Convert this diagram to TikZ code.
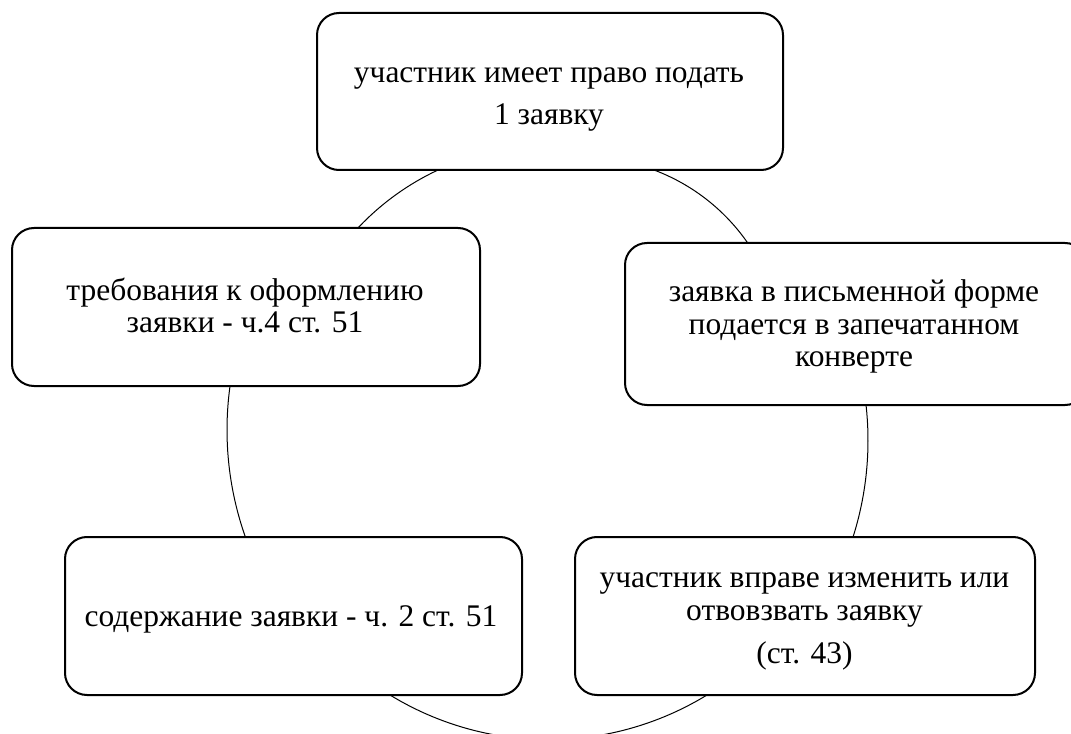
\documentclass[tikz,border=0pt]{standalone}
\usepackage{fontspec}
\setmainfont{Liberation Serif}
\begin{document}
\begin{tikzpicture}[x=0.75pt,y=-0.75pt,
  boxstyle/.style={draw=black, line width=1.5pt, fill=white, rounded corners=16.5pt,
    inner sep=0pt, outer sep=0pt},
  txt/.style={font={\fontsize{23.6}{24.4}\selectfont}, align=center, inner sep=0pt, anchor=base},
  arcline/.style={draw=black, line width=0.75pt}
]
\useasboundingbox (0,0) rectangle (1071,734);
\clip (0,0) rectangle (1071,734);
\fill[white] (0,0) rectangle (1071,734);
% cycle arcs
\draw[arcline] plot[domain=-113:-140, samples=40] ({548.5+261.3*cos(\x)},{406.8+261.3*sin(\x)});
\draw[arcline] plot[domain=-72:-32, samples=40] ({584.4+198.6*cos(\x)},{356.0+198.6*sin(\x)});
\draw[arcline] plot[domain=150:195, samples=60] ({548.5+321.5*cos(\x)},{429.9+321.5*sin(\x)});
\draw[arcline] plot[domain=-12:22, samples=60] ({548.5+319.5*cos(\x)},{440.4+319.5*sin(\x)});
\draw[arcline] plot[domain=54:126, samples=80] ({548.5+303.4*cos(\x)},{436.3+303.4*sin(\x)});
% boxes
\node[boxstyle, minimum width={466*0.75pt}, minimum height={157*0.75pt}] (top) at (550,91.5) {};
\node[boxstyle, minimum width={468*0.75pt}, minimum height={158*0.75pt}] (lm) at (246,307) {};
\node[boxstyle, minimum width={462*0.75pt}, minimum height={162*0.75pt}] (rm) at (856,324) {};
\node[boxstyle, minimum width={457*0.75pt}, minimum height={158*0.75pt}] (bl) at (293.5,616) {};
\node[boxstyle, minimum width={460*0.75pt}, minimum height={158*0.75pt}] (br) at (805,616) {};
% texts (anchor=base is the baseline of the last line)
\node[txt] (ttop) at (549,125) {участник имеет право подать\\[7.5pt]1 заявку};
\node[txt] (tlm) at (245,333) {требования к оформлению\\заявки - ч.4 ст. 51};
\node[txt] (trm) at (854,366.7) {заявка в письменной форме\\подается в запечатанном\\конверте};
\node[txt] (tbl) at (291,626) {содержание заявки - ч. 2 ст. 51};
\node[txt] (tbr) at (804.5,663) {участник вправе изменить или\\отвовзвать заявку\\[7.5pt](ст. 43)};
\end{tikzpicture}
\end{document}
